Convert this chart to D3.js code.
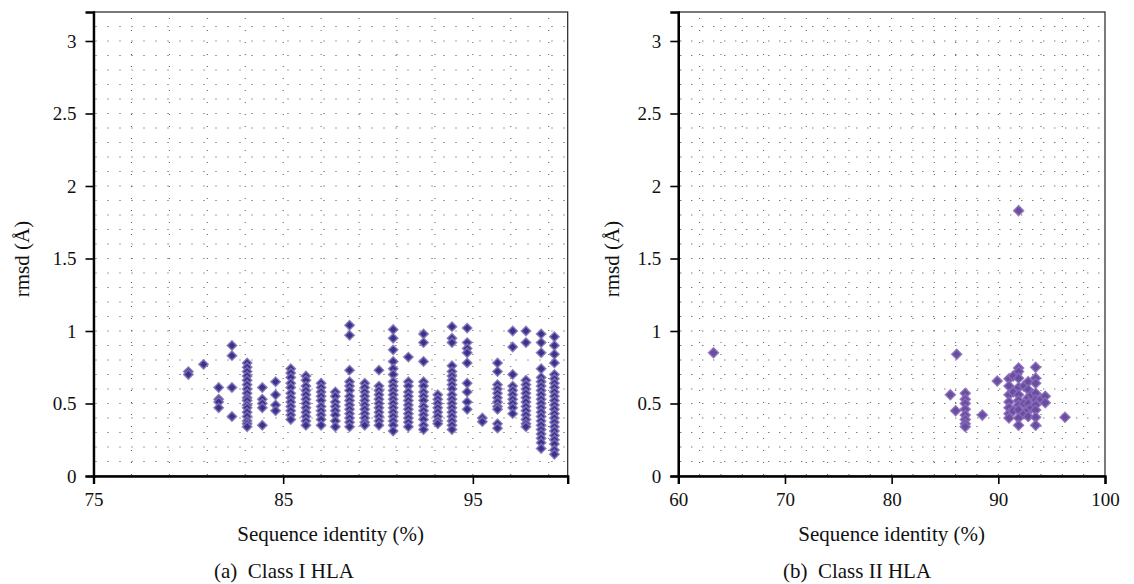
<!DOCTYPE html>
<html>
<head>
<meta charset="utf-8">
<script src="https://cdn.jsdelivr.net/npm/d3@7"></script>
<style>
  body { margin: 0; background: #fff; }
  svg { display: block; }
  text { font-family: "Liberation Serif", "DejaVu Serif", serif; fill: #111; }
</style>
</head>
<body>
<svg id="chart" width="1134" height="584"></svg>
<script>
// Class I HLA: sequence identity columns and the rmsd values stacked in each
const classIX = [80.0, 80.8, 81.6, 82.3, 83.1, 83.9, 84.6, 85.4, 86.2, 87.0, 87.75, 88.5, 89.3, 90.05,
    90.8, 91.6, 92.4, 93.15, 93.9, 94.7, 95.5, 96.3, 97.1, 97.8, 98.6, 99.3];
const classIRmsd = [
    [0.72, 0.70],
    [0.77],
    [0.61, 0.53, 0.51, 0.47],
    [0.90, 0.83, 0.61, 0.41],
    [0.78, 0.75, 0.72, 0.69, 0.66, 0.63, 0.60, 0.57, 0.54, 0.52, 0.49, 0.47, 0.44, 0.41, 0.38, 0.36, 0.34],
    [0.61, 0.53, 0.50, 0.47, 0.35],
    [0.65, 0.56, 0.49, 0.45],
    [0.74, 0.71, 0.68, 0.64, 0.61, 0.57, 0.54, 0.51, 0.48, 0.45, 0.42, 0.39],
    [0.69, 0.66, 0.62, 0.59, 0.56, 0.53, 0.50, 0.47, 0.44, 0.41, 0.38, 0.35],
    [0.64, 0.61, 0.58, 0.55, 0.52, 0.48, 0.45, 0.42, 0.39, 0.35],
    [0.58, 0.55, 0.51, 0.48, 0.45, 0.42, 0.38, 0.34],
    [1.04, 0.97, 0.73, 0.65, 0.62, 0.59, 0.55, 0.52, 0.49, 0.46, 0.43, 0.40, 0.37, 0.34],
    [0.64, 0.61, 0.58, 0.55, 0.52, 0.49, 0.46, 0.43, 0.40, 0.37, 0.35],
    [0.73, 0.62, 0.59, 0.56, 0.53, 0.50, 0.47, 0.44, 0.41, 0.38, 0.35],
    [1.01, 0.95, 0.87, 0.79, 0.74, 0.70, 0.65, 0.62, 0.59, 0.56, 0.53, 0.50, 0.47, 0.44, 0.41, 0.38, 0.35, 0.31],
    [0.82, 0.65, 0.62, 0.58, 0.55, 0.52, 0.49, 0.46, 0.43, 0.40, 0.37, 0.34],
    [0.98, 0.92, 0.79, 0.65, 0.62, 0.58, 0.55, 0.52, 0.48, 0.45, 0.42, 0.39, 0.35, 0.32],
    [0.56, 0.53, 0.50, 0.47, 0.44, 0.41, 0.38, 0.36],
    [1.03, 0.95, 0.92, 0.76, 0.72, 0.69, 0.66, 0.63, 0.60, 0.56, 0.53, 0.50, 0.47, 0.44, 0.41, 0.38, 0.35, 0.32],
    [1.02, 0.92, 0.88, 0.85, 0.78, 0.64, 0.58, 0.51, 0.46],
    [0.40, 0.375],
    [0.78, 0.72, 0.63, 0.60, 0.57, 0.54, 0.51, 0.48, 0.46, 0.36, 0.33],
    [1.00, 0.89, 0.70, 0.62, 0.59, 0.56, 0.53, 0.50, 0.47, 0.43],
    [1.00, 0.92, 0.66, 0.63, 0.60, 0.57, 0.54, 0.51, 0.48, 0.45, 0.42, 0.39, 0.36, 0.34],
    [0.98, 0.92, 0.85, 0.74, 0.68, 0.65, 0.62, 0.59, 0.56, 0.53, 0.50, 0.47, 0.44, 0.41, 0.38, 0.35, 0.32, 0.29, 0.26, 0.23, 0.19],
    [0.96, 0.90, 0.84, 0.78, 0.70, 0.67, 0.64, 0.61, 0.58, 0.55, 0.52, 0.49, 0.46, 0.43, 0.40, 0.37, 0.34, 0.31, 0.28, 0.25, 0.22, 0.18, 0.15]
];

// Class II HLA points
const classIIX = [63.3, 86.1, 85.5, 86.0,
    86.9, 86.9, 86.9, 86.9, 86.9, 86.9, 86.9, 86.9,
    88.5, 89.9,
    91.0, 91.0, 91.0, 91.0, 91.0, 91.0, 91.0,
    91.4, 91.4, 91.4,
    91.9, 91.9, 91.9, 91.9, 91.9, 91.9, 91.9, 91.9, 91.9, 91.9, 91.9,
    92.4, 92.4, 92.4,
    92.8, 92.8, 92.8, 92.8, 92.8, 92.8,
    93.1, 93.1,
    93.5, 93.5, 93.5, 93.5, 93.5, 93.5, 93.5, 93.5, 93.5,
    94.0, 94.4, 94.4, 96.25];
const classIIRmsd = [0.85, 0.84, 0.56, 0.45,
    0.57, 0.53, 0.50, 0.46, 0.42, 0.39, 0.36, 0.34,
    0.42, 0.655,
    0.67, 0.62, 0.56, 0.51, 0.47, 0.43, 0.40,
    0.69, 0.58, 0.45,
    0.745, 0.72, 0.675, 0.61, 0.56, 0.52, 0.49, 0.455, 0.40, 0.35, 1.83,
    0.62, 0.50, 0.43,
    0.65, 0.595, 0.54, 0.50, 0.455, 0.41,
    0.56, 0.47,
    0.75, 0.675, 0.64, 0.57, 0.525, 0.49, 0.455, 0.405, 0.35,
    0.53, 0.55, 0.505, 0.405];

const yTicks = [0, 0.5, 1, 1.5, 2, 2.5, 3];
const classITicks = [75, 85, 95];
const classIITicks = [60, 70, 80, 90, 100];

const svg = d3.select("#chart");

function drawPanel(opt) {
    const x = d3.scaleLinear().domain(opt.xDomain).range([opt.left, opt.right]);
    const y = d3.scaleLinear().domain([0, 3.2]).range([476, 12]);
    const g = svg.append("g");

    // dotted grid: every 0.1 across, every 2 units up
    g.append("g").selectAll("line")
        .data(d3.range(1, 32).map(d => d / 10))
        .join("line")
        .attr("x1", opt.left + 2).attr("x2", opt.right)
        .attr("y1", d => y(d)).attr("y2", d => y(d))
        .attr("stroke", "#444").attr("stroke-width", 1)
        .attr("stroke-dasharray", "1," + opt.dotGap);
    g.append("g").selectAll("line")
        .data(d3.range(opt.xDomain[0] + 2, opt.xDomain[1], 2))
        .join("line")
        .attr("x1", d => x(d)).attr("x2", d => x(d))
        .attr("y1", 475).attr("y2", 13)
        .attr("stroke", "#555").attr("stroke-width", 1)
        .attr("stroke-dasharray", "1,11");

    // points
    const diamond = d3.symbol().type(d3.symbolSquare).size(opt.size);
    g.append("g").selectAll("path")
        .data(opt.points)
        .join("path")
        .attr("d", diamond)
        .attr("transform", d => "translate(" + x(d[0]) + "," + y(d[1]) + ") rotate(45)")
        .attr("fill", opt.fill)
        .attr("stroke", opt.stroke)
        .attr("stroke-width", 1.6)
        .attr("stroke-opacity", 0.85);

    // frame
    g.append("rect")
        .attr("x", opt.left).attr("y", 12)
        .attr("width", opt.right - opt.left).attr("height", 464)
        .attr("fill", "none").attr("stroke", "#222").attr("stroke-width", 1.2);

    const yAxis = g.append("g")
        .attr("transform", "translate(" + opt.left + ",0)")
        .call(d3.axisLeft(y).tickValues(yTicks).tickSize(8).tickPadding(9).tickFormat(d3.format("")));
    const xAxis = g.append("g")
        .attr("transform", "translate(0,476)")
        .call(d3.axisBottom(x).tickValues(opt.xTicks).tickSize(8).tickPadding(9));
    [yAxis, xAxis].forEach(a => {
        a.select(".domain").attr("stroke", "#000").attr("stroke-width", 2.4);
        a.selectAll(".tick line").attr("stroke", "#000").attr("stroke-width", 1.6);
        a.selectAll(".tick text").style("font-family", "Liberation Serif").style("font-size", "19px").attr("fill", "#111");
    });

    g.append("text")
        .attr("x", (opt.left + opt.right) / 2).attr("y", 541)
        .attr("text-anchor", "middle").style("font-size", "21px")
        .text("Sequence identity (%)");
    g.append("text")
        .attr("transform", "translate(" + opt.labelX + ",259) rotate(-90)")
        .attr("text-anchor", "middle").attr("dy", "0.35em").style("font-size", "21px")
        .text("rmsd (Å)");
    g.append("text")
        .attr("x", opt.captionX).attr("y", 578)
        .attr("text-anchor", "middle").style("font-size", "21px")
        .style("white-space", "pre")
        .text(opt.caption);
}

const pointsI = [];
classIX.forEach((xv, i) => classIRmsd[i].forEach(r => pointsI.push([xv, r])));
const pointsII = classIIX.map((xv, i) => [xv, classIIRmsd[i]]);

drawPanel({
    xDomain: [75, 100], left: 93.5, right: 567.7, xTicks: classITicks,
    points: pointsI, fill: "#35348f", stroke: "#8470b2", size: 42, dotGap: 11,
    labelX: 22, captionX: 284, caption: "(a)  Class I HLA"
});
drawPanel({
    xDomain: [60, 100], left: 678.3, right: 1105, xTicks: classIITicks,
    points: pointsII, fill: "#6a4d9f", stroke: "#876bb8", size: 48, dotGap: 10,
    labelX: 612, captionX: 857, caption: "(b)  Class II HLA"
});
</script>
</body>
</html>
